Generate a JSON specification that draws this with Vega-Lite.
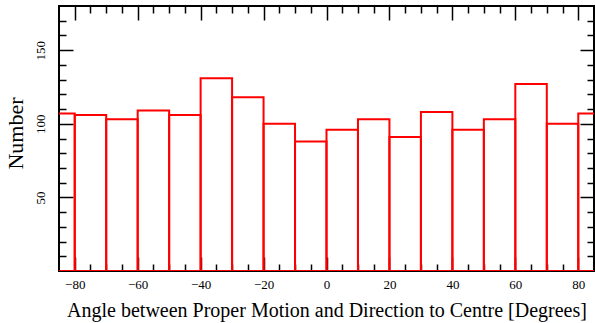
{
  "$schema": "https://vega.github.io/schema/vega-lite/v6.json",
  "width": 535,
  "height": 265,
  "autosize": {"type": "none"},
  "padding": {"left": 59, "top": 6, "right": 1, "bottom": 52},
  "background": "white",
  "config": {
    "view": {"stroke": "black", "strokeWidth": 2},
    "font": "Liberation Serif",
    "axis": {
      "domain": false,
      "grid": false,
      "zindex": 1,
      "tickColor": "black",
      "tickWidth": 1.5,
      "labelColor": "black",
      "labelFont": "Liberation Serif",
      "labelFontSize": 13,
      "titleFont": "Liberation Serif",
      "titleFontWeight": "normal",
      "titleColor": "black"
    }
  },
  "data": {
    "values": [
      {"start": -90, "end": -80, "count": 107},
      {"start": -80, "end": -70, "count": 106},
      {"start": -70, "end": -60, "count": 103},
      {"start": -60, "end": -50, "count": 109},
      {"start": -50, "end": -40, "count": 106},
      {"start": -40, "end": -30, "count": 131},
      {"start": -30, "end": -20, "count": 118},
      {"start": -20, "end": -10, "count": 100},
      {"start": -10, "end": 0, "count": 88},
      {"start": 0, "end": 10, "count": 96},
      {"start": 10, "end": 20, "count": 103},
      {"start": 20, "end": 30, "count": 91},
      {"start": 30, "end": 40, "count": 108},
      {"start": 40, "end": 50, "count": 96},
      {"start": 50, "end": 60, "count": 103},
      {"start": 60, "end": 70, "count": 127},
      {"start": 70, "end": 80, "count": 100},
      {"start": 80, "end": 90, "count": 107}
    ]
  },
  "layer": [
    {
      "mark": {"type": "rect", "fill": null, "fillOpacity": 0, "stroke": "#ff0000", "strokeWidth": 2, "clip": true},
      "encoding": {
        "x": {
          "field": "start", "type": "quantitative",
          "scale": {"domain": [-85, 85], "nice": false, "zero": false},
          "axis": {
            "orient": "bottom",
            "values": [-80, -75, -70, -65, -60, -55, -50, -45, -40, -35, -30, -25, -20, -15, -10, -5, 0, 5, 10, 15, 20, 25, 30, 35, 40, 45, 50, 55, 60, 65, 70, 75, 80],
            "labelExpr": "datum.value % 20 === 0 ? replace(format(datum.value, 'd'), '-', '\u2212') : ''",
            "tickSize": {"condition": {"test": "datum.value % 20 === 0", "value": -14}, "value": -7},
            "labelFont": "Liberation Serif",
            "labelFontSize": 13,
            "labelPadding": 21,
            "labelBaseline": "top",
            "labelFlush": false,
            "labelOverlap": false,
            "title": "Angle between Proper Motion and Direction to Centre [Degrees]",
            "titleFont": "Liberation Serif",
            "titleFontSize": 20,
            "titleBaseline": "alphabetic",
            "titleY": 45
          }
        },
        "x2": {"field": "end"},
        "y": {
          "field": "count", "type": "quantitative",
          "scale": {"domain": [0, 180], "nice": false},
          "axis": {
            "orient": "left",
            "values": [10, 20, 30, 40, 50, 60, 70, 80, 90, 100, 110, 120, 130, 140, 150, 160, 170],
            "labelExpr": "datum.value % 50 === 0 ? datum.label : ''",
            "tickSize": {"condition": {"test": "datum.value % 50 === 0", "value": -14}, "value": -7},
            "labelFont": "Liberation Serif",
            "labelFontSize": 13,
            "labelAngle": -90,
            "labelAlign": "center",
            "labelBaseline": "bottom",
            "labelPadding": 26,
            "labelFlush": false,
            "labelOverlap": false,
            "title": "Number",
            "titleFont": "Liberation Serif",
            "titleFontSize": 22,
            "titleAngle": -90,
            "titleBaseline": "alphabetic",
            "titleX": -37,
            "titleY": 127
          }
        },
        "y2": {"datum": 0}
      }
    },
    {
      "mark": {"type": "rect", "opacity": 0},
      "encoding": {
        "x": {
          "field": "start", "type": "quantitative",
          "axis": {
            "orient": "top",
            "values": [-80, -75, -70, -65, -60, -55, -50, -45, -40, -35, -30, -25, -20, -15, -10, -5, 0, 5, 10, 15, 20, 25, 30, 35, 40, 45, 50, 55, 60, 65, 70, 75, 80],
            "labels": false,
            "tickSize": {"condition": {"test": "datum.value % 20 === 0", "value": -14}, "value": -7},
            "title": null
          }
        },
        "x2": {"field": "end"},
        "y": {
          "field": "count", "type": "quantitative",
          "axis": {
            "orient": "right",
            "values": [10, 20, 30, 40, 50, 60, 70, 80, 90, 100, 110, 120, 130, 140, 150, 160, 170],
            "labels": false,
            "tickSize": {"condition": {"test": "datum.value % 50 === 0", "value": -14}, "value": -7},
            "title": null
          }
        },
        "y2": {"datum": 0}
      }
    }
  ],
  "resolve": {"axis": {"x": "independent", "y": "independent"}}
}
